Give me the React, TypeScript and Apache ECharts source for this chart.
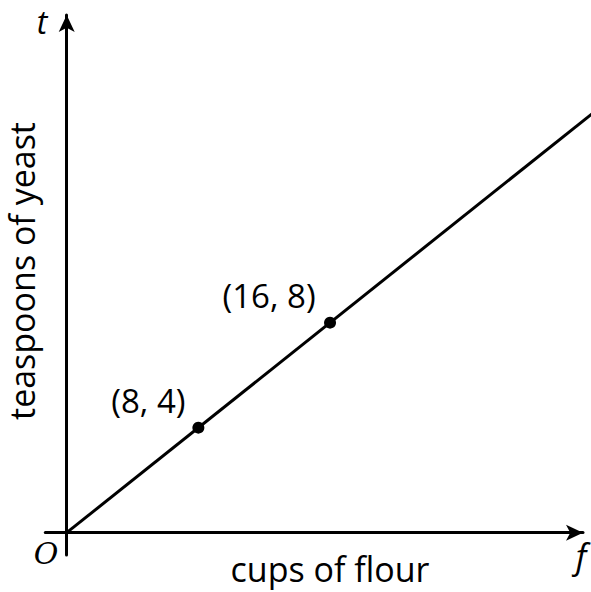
import React, { useEffect, useRef } from "react";
import * as echarts from "echarts";

const linePoints: number[][] = [
  [0, 0],
  [33, 16.5],
];
const markedPoints: number[][] = [
  [8, 4],
  [16, 8],
];
const labelOffsets: number[][] = [
  [-50, -27],
  [-61, -27],
];
const xAxisTitle = "cups of flour";
const yAxisTitle = "teaspoons of yeast";
const xVar = "f";
const yVar = "t";
const originLabel = "O";

export default function App() {
  const ref = useRef<HTMLDivElement>(null);
  useEffect(() => {
    document.body.style.margin = "0";
    if (!ref.current) return;
    const chart = echarts.init(ref.current, undefined, { renderer: "svg" });
    const font = "'Open Sans', 'Noto Sans', sans-serif";
    const hiddenAxis = {
      axisLine: { show: false },
      axisTick: { show: false },
      axisLabel: { show: false },
      splitLine: { show: false },
    };
    const visibleAxisLine = {
      show: true,
      onZero: true,
      symbol: ["none", "arrow"],
      symbolSize: [12, 17],
      lineStyle: { color: "#000", width: 3 },
    };
    // second grid: same scale, wider extent so the line reaches the page edge
    const xMin = -1.3;
    const xMax = 31.37;
    const gridLeft = 45.3;
    const gridWidth = 591 - 8 - gridLeft;
    const pxPerX = gridWidth / (xMax - xMin);
    const x2Max = 33;
    const grid2Width = (x2Max - xMin) * pxPerX;
    chart.setOption({
      animation: false,
      grid: [
        { left: gridLeft, width: gridWidth, top: 15, height: 540, outerBoundsMode: "none" },
        { left: gridLeft, width: grid2Width, top: 15, height: 540, outerBoundsMode: "none" },
      ],
      xAxis: [
        {
          type: "value",
          gridIndex: 0,
          min: xMin,
          max: xMax,
          axisLine: visibleAxisLine,
          axisTick: { show: false },
          axisLabel: { show: false },
          splitLine: { show: false },
        },
        { type: "value", gridIndex: 1, min: xMin, max: x2Max, ...hiddenAxis },
      ],
      yAxis: [
        {
          type: "value",
          gridIndex: 0,
          min: -0.85,
          max: 19.72,
          axisLine: visibleAxisLine,
          axisTick: { show: false },
          axisLabel: { show: false },
          splitLine: { show: false },
        },
        { type: "value", gridIndex: 1, min: -0.85, max: 19.72, ...hiddenAxis },
      ],
      series: [
        {
          type: "line",
          xAxisIndex: 1,
          yAxisIndex: 1,
          data: linePoints,
          symbol: "none",
          clip: false,
          lineStyle: { color: "#000", width: 3 },
          z: 3,
        },
        {
          type: "scatter",
          xAxisIndex: 0,
          yAxisIndex: 0,
          data: markedPoints.map((p, i) => ({
            value: p,
            label: {
              show: true,
              position: "inside",
              offset: labelOffsets[i],
              formatter: `(${p[0]}, ${p[1]})`,
              fontFamily: font,
              fontSize: 33,
              color: "#000",
            },
          })),
          symbol: "circle",
          symbolSize: 12,
          itemStyle: { color: "#000", opacity: 1 },
          z: 4,
        },
      ],
      graphic: [
        {
          type: "text",
          x: 330,
          y: 569,
          style: {
            text: xAxisTitle,
            font: `34px ${font}`,
            fill: "#000",
            align: "center",
            verticalAlign: "middle",
          },
        },
        {
          type: "text",
          x: 22,
          y: 271,
          rotation: Math.PI / 2,
          style: {
            text: yAxisTitle,
            font: `34px ${font}`,
            fill: "#000",
            align: "center",
            verticalAlign: "middle",
          },
        },
        {
          type: "text",
          x: 42,
          y: 21,
          style: {
            text: yVar,
            font: `italic 32px ${font}`,
            fill: "#000",
            align: "center",
            verticalAlign: "middle",
          },
        },
        {
          type: "text",
          x: 581,
          y: 556,
          style: {
            text: xVar,
            font: `italic 34px ${font}`,
            fill: "#000",
            align: "center",
            verticalAlign: "middle",
          },
        },
        {
          type: "text",
          x: 46,
          y: 553,
          style: {
            text: originLabel,
            font: `italic 30px 'DejaVu Serif', serif`,
            fill: "#000",
            align: "center",
            verticalAlign: "middle",
          },
        },
      ],
    });
    return () => chart.dispose();
  }, []);
  return <div ref={ref} style={{ width: 591, height: 592 }} />;
}
